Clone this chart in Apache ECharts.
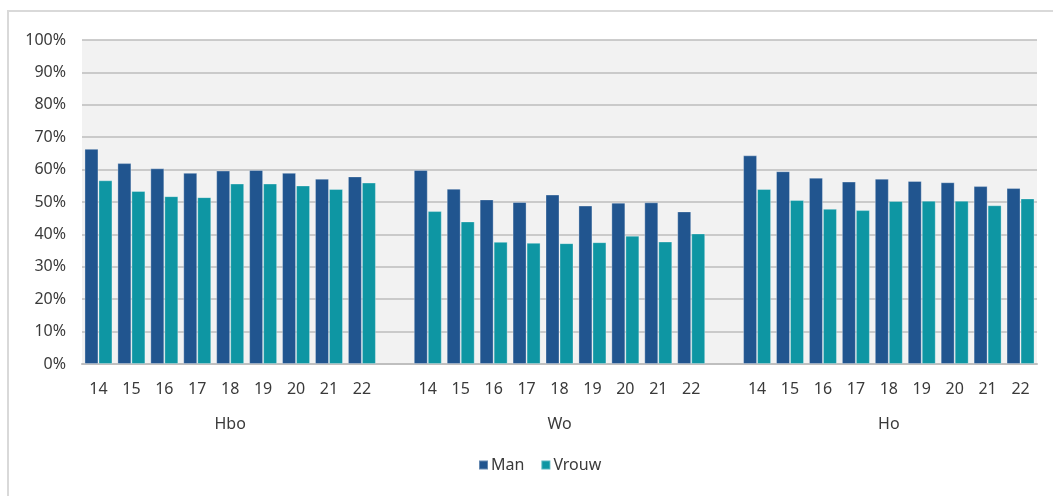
<!DOCTYPE html>
<html>
<head>
<meta charset="utf-8">
<script src="https://cdn.jsdelivr.net/npm/echarts@6/dist/echarts.min.js"></script>
<style>
html,body{margin:0;padding:0;background:#fff;}
#c{width:1053px;height:496px;}
</style>
</head>
<body>
<div id="c"></div>
<script>
// Data
const groups = ['Hbo', 'Wo', 'Ho'];
const years = ['14', '15', '16', '17', '18', '19', '20', '21', '22'];
const yTicks = [0, 10, 20, 30, 40, 50, 60, 70, 80, 90, 100];

const manHbo   = [66.4, 62.0, 60.4, 59.0, 59.7, 59.9, 59.0, 57.2, 57.9];
const vrouwHbo = [56.7, 53.4, 51.8, 51.5, 55.7, 55.7, 55.1, 54.0, 56.0];
const manWo    = [59.9, 54.1, 50.8, 50.0, 52.3, 48.9, 49.8, 49.9, 47.1];
const vrouwWo  = [47.2, 44.0, 37.7, 37.4, 37.3, 37.6, 39.6, 37.8, 40.3];
const manHo    = [64.4, 59.5, 57.5, 56.3, 57.2, 56.5, 56.1, 54.9, 54.3];
const vrouwHo  = [54.0, 50.6, 47.9, 47.5, 50.3, 50.4, 50.4, 49.0, 51.1];

// Build category list with a blank slot between groups
const cats = [], groupCats = [], manData = [], vrouwData = [];
const manAll = [manHbo, manWo, manHo];
const vrouwAll = [vrouwHbo, vrouwWo, vrouwHo];
groups.forEach((g, gi) => {
  if (gi > 0) { cats.push(''); groupCats.push(''); manData.push('-'); vrouwData.push('-'); }
  years.forEach((y, yi) => {
    cats.push(y);
    groupCats.push(yi === Math.floor(years.length / 2) ? g : '');
    manData.push(manAll[gi][yi]);
    vrouwData.push(vrouwAll[gi][yi]);
  });
});

const font = 'Noto Sans';
const txt = '#3a3a3a';
const chart = echarts.init(document.getElementById('c'), null, {renderer: 'canvas'});
chart.setOption({
  animation: false,
  backgroundColor: '#ffffff',
  graphic: [{
    type: 'rect',
    shape: {x: 8, y: 11, width: 1200, height: 700},
    style: {fill: 'none', stroke: '#d9d9d9', lineWidth: 2},
    silent: true, z: -10
  }],
  grid: {left: 82, right: 16, top: 40, bottom: 132, show: true, backgroundColor: '#f2f2f2', borderWidth: 0},
  legend: {
    data: ['Man', 'Vrouw'],
    bottom: 18,
    left: 473,
    itemWidth: 9, itemHeight: 9, itemGap: 16,
    icon: 'rect',
    textStyle: {fontFamily: font, fontSize: 16, color: txt, padding: [0, 0, 0, -2]}
  },
  xAxis: [{
    type: 'category',
    data: cats,
    axisLine: {show: true, lineStyle: {color: '#bfbfbf', width: 2}},
    axisTick: {show: false},
    axisLabel: {interval: 0, fontFamily: font, fontSize: 16, color: txt, margin: 17}
  }, {
    type: 'category',
    data: groupCats,
    position: 'bottom',
    offset: 35,
    axisLine: {show: false},
    axisTick: {show: false},
    axisLabel: {interval: 0, fontFamily: font, fontSize: 16, color: txt, margin: 17}
  }],
  yAxis: {
    type: 'value',
    min: 0, max: 100, interval: 10,
    axisLabel: {formatter: v => yTicks.includes(v) ? v + '%' : '', fontFamily: font, fontSize: 16, color: txt, margin: 16},
    axisLine: {show: false},
    axisTick: {show: false},
    splitLine: {lineStyle: {color: '#bdbdbd', width: 1.6}}
  },
  series: [{
    name: 'Man', type: 'bar', data: manData, xAxisIndex: 0,
    barGap: '0%', barCategoryGap: '15%',
    itemStyle: {color: '#21558f', borderColor: 'rgba(255,255,255,0.3)', borderWidth: 1}
  }, {
    name: 'Vrouw', type: 'bar', data: vrouwData, xAxisIndex: 0,
    barGap: '0%', barCategoryGap: '15%',
    itemStyle: {color: '#0e96a3', borderColor: 'rgba(255,255,255,0.3)', borderWidth: 1}
  }]
});
</script>
</body>
</html>
